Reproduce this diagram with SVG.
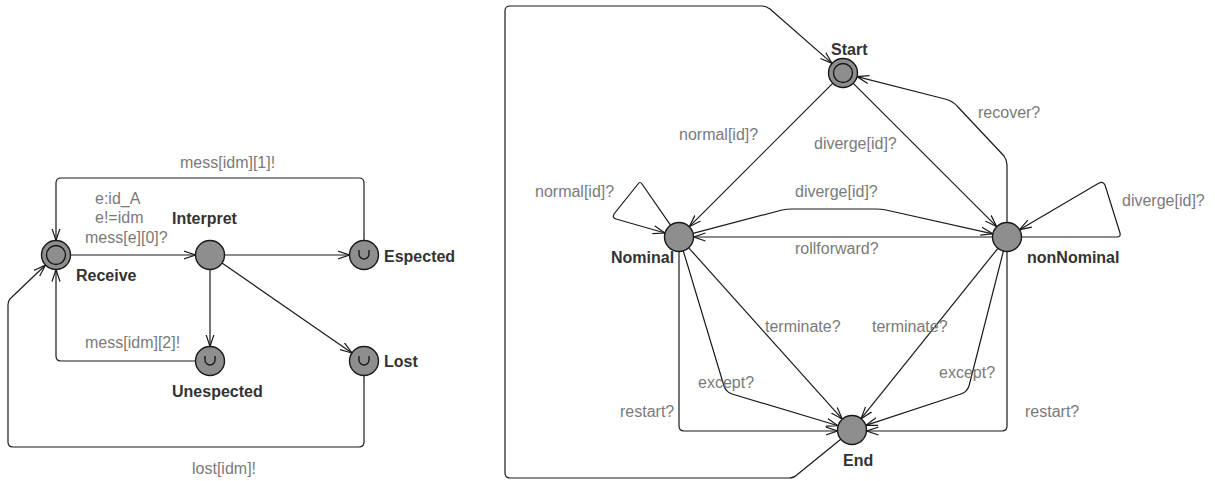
<svg xmlns="http://www.w3.org/2000/svg" width="1215" height="481" viewBox="0 0 1215 481">
<style>
.bg{fill:#fff}
.e{fill:none;stroke:#1a1a1a;stroke-width:1.2;marker-end:url(#arr)}
.n{fill:#8e8e8e;stroke:#1a1a1a;stroke-width:1.4}
.in{fill:none;stroke:#1a1a1a;stroke-width:1.4}
.u{fill:none;stroke:#1a1a1a;stroke-width:1.4}
.lbl{font-family:"Liberation Sans",Arial,sans-serif;font-size:16px;fill:#7a7a7a}
.nm{font-family:"Liberation Sans",Arial,sans-serif;font-size:16px;font-weight:bold;fill:#333}
</style>
<defs>
<marker id="arr" viewBox="0 0 12 10" refX="12" refY="5" markerWidth="12" markerHeight="10" markerUnits="userSpaceOnUse" orient="auto">
<path d="M0,1 L12,5 L0,9" fill="none" stroke="#1a1a1a" stroke-width="1.2"/>
</marker>
</defs>
<rect class="bg" x="0" y="0" width="1215" height="481"/>
<g id="connectors">
<path class="e" d="M70.5,255 L195.5,255"/>
<path class="e" d="M224.5,255 L349.5,255"/>
<path class="e" d="M210,269.5 L210,346.5"/>
<path class="e" d="M222,263 L352,353"/>
<path class="e" d="M364,240.5 L364,183 Q364,178 359,178 L61,178 Q56,178 56,183 L56,240.5"/>
<path class="e" d="M195.5,361 L61,361 Q56,361 56,356 L56,269.5"/>
<path class="e" d="M364,375.5 L364,442 Q364,447 359,447 L13,447 Q8,447 8,442 L8,305 Q8,300 12,297 L45.5,265"/>
<path class="e" d="M832.7,83.3 L689.3,226.7"/>
<path class="e" d="M853.3,83.3 L996.7,226.7"/>
<path class="e" d="M1007,222.5 L1007,165 Q1007,160 1004,156 L958,107 Q953,101 945,99 L857,76.6"/>
<path class="e" d="M670.5,225.2 L642,184 Q640,181 638,184 L614,214 Q612,218 616,219 L665,233"/>
<path class="e" d="M1021.5,237 L1117,237 Q1121,237 1120,233 L1105,185 Q1103,181 1099,183 L1019.5,229.7"/>
<path class="e" d="M693,233.4 L782,210 Q787,209 792,209 L876,209 Q881,209 886,210 L992.8,233.8"/>
<path class="e" d="M992.5,237 L693.5,237"/>
<path class="e" d="M688.7,247.8 L842.3,419.2"/>
<path class="e" d="M997.9,248.3 L861.1,418.7"/>
<path class="e" d="M683.3,250.9 L724,386 Q726,392 732,394 L838.1,425.8"/>
<path class="e" d="M1003.4,251.1 L969,386 Q967,392 961,394 L865.8,425.4"/>
<path class="e" d="M679,251.5 L679,426 Q679,431 684,431 L837.5,431"/>
<path class="e" d="M1007,251.5 L1007,426 Q1007,431 1002,431 L866.5,431"/>
<path class="e" d="M840.8,439.2 L798,474 Q794,478 789,478 L510,478 Q505,478 505,473 L505,11 Q505,6 510,6 L762,6 Q766,6 770,9 L832.1,63.4"/>
</g>
<g id="edge-labels">
<text class="lbl" x="180" y="168">mess[idm][1]!</text>
<text class="lbl" x="95" y="204">e:id_A</text>
<text class="lbl" x="95" y="223">e!=idm</text>
<text class="lbl" x="85" y="243">mess[e][0]?</text>
<text class="lbl" x="85" y="348">mess[idm][2]!</text>
<text class="lbl" x="192" y="474">lost[idm]!</text>
<text class="lbl" x="679" y="140">normal[id]?</text>
<text class="lbl" x="814" y="149">diverge[id]?</text>
<text class="lbl" x="978" y="118">recover?</text>
<text class="lbl" x="535" y="197">normal[id]?</text>
<text class="lbl" x="1122" y="206">diverge[id]?</text>
<text class="lbl" x="795" y="197">diverge[id]?</text>
<text class="lbl" x="795" y="254">rollforward?</text>
<text class="lbl" x="765" y="332">terminate?</text>
<text class="lbl" x="872" y="332">terminate?</text>
<text class="lbl" x="698" y="388">except?</text>
<text class="lbl" x="939" y="378">except?</text>
<text class="lbl" x="620" y="417">restart?</text>
<text class="lbl" x="1025" y="417">restart?</text>
</g>
<g id="Receive">
<circle class="n" cx="56" cy="255" r="14.5"/>
<circle class="in" cx="56" cy="255" r="9.5"/>
<text class="nm" x="76" y="281">Receive</text>
</g>
<g id="Interpret">
<circle class="n" cx="210" cy="255" r="14.5"/>
<text class="nm" x="172" y="224">Interpret</text>
</g>
<g id="Espected">
<circle class="n" cx="364" cy="255" r="14.5"/>
<path class="u" d="M359,250 v4 a5,5 0 0 0 10,0 v-4"/>
<text class="nm" x="384" y="262">Espected</text>
</g>
<g id="Unespected">
<circle class="n" cx="210" cy="361" r="14.5"/>
<path class="u" d="M205,356 v4 a5,5 0 0 0 10,0 v-4"/>
<text class="nm" x="172" y="397">Unespected</text>
</g>
<g id="Lost">
<circle class="n" cx="364" cy="361" r="14.5"/>
<path class="u" d="M359,356 v4 a5,5 0 0 0 10,0 v-4"/>
<text class="nm" x="384" y="367">Lost</text>
</g>
<g id="Start">
<circle class="n" cx="843" cy="73" r="14.5"/>
<circle class="in" cx="843" cy="73" r="9.5"/>
<text class="nm" x="831" y="55">Start</text>
</g>
<g id="Nominal">
<circle class="n" cx="679" cy="237" r="14.5"/>
<text class="nm" x="611" y="263">Nominal</text>
</g>
<g id="nonNominal">
<circle class="n" cx="1007" cy="237" r="14.5"/>
<text class="nm" x="1027" y="263">nonNominal</text>
</g>
<g id="End">
<circle class="n" cx="852" cy="430" r="14.5"/>
<text class="nm" x="843" y="466">End</text>
</g>
</svg>
